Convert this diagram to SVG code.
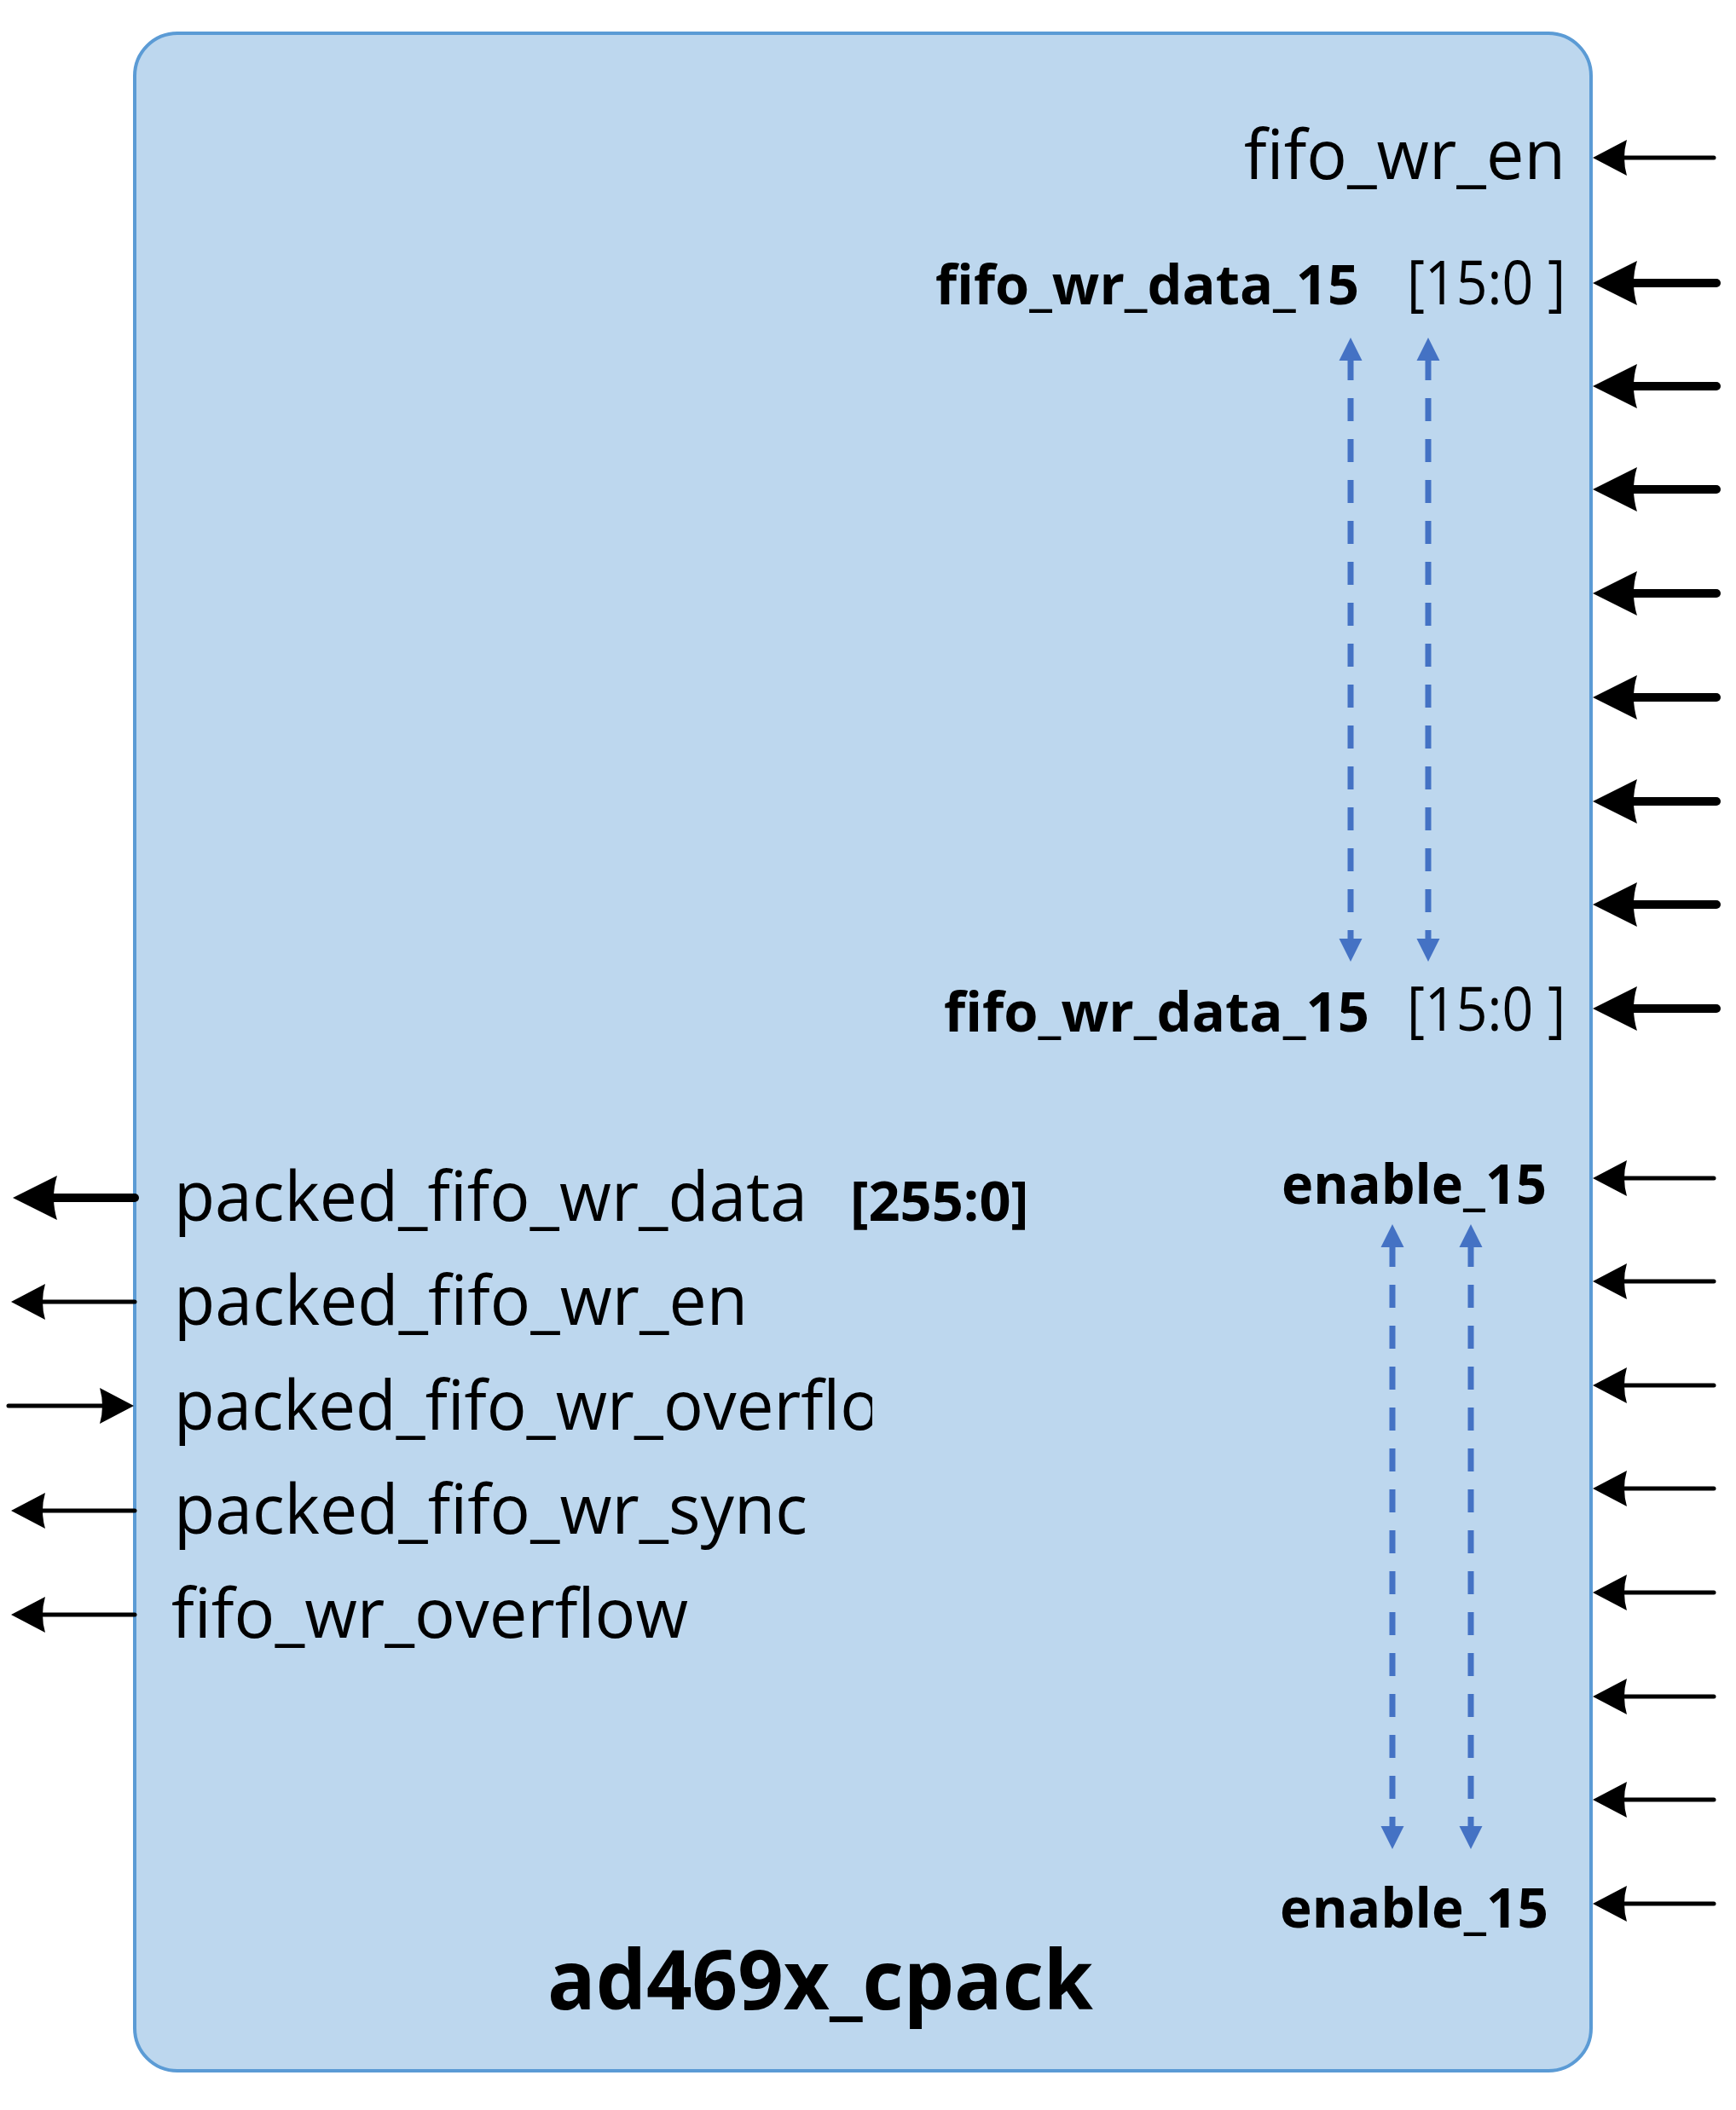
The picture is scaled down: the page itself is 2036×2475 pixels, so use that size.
<svg xmlns="http://www.w3.org/2000/svg" xmlns:xlink="http://www.w3.org/1999/xlink" width="2036" height="2475" viewBox="0 0 2036 2475">
  <style>
    .box { fill: #BDD7EE; stroke: #5B9BD5; stroke-width: 4; }
    .t { font-family: "Open Sans", "Noto Sans", "DejaVu Sans", sans-serif; fill: #000; }
    .r { font-size: 80px; font-weight: 400; }
    .rb { font-size: 72px; font-weight: 400; }
    .b { font-size: 65px; font-weight: 700; }
    .title { font-size: 96px; font-weight: 700; }
    .thick { stroke: #000; stroke-width: 10; stroke-linecap: round; fill: none; }
    .thin { stroke: #000; stroke-width: 5; stroke-linecap: round; fill: none; }
    .dash { stroke: #4472C4; stroke-width: 7; stroke-dasharray: 27 21; fill: none; }
    .hd { fill: #000; }
    .hb { fill: #4472C4; }
  </style>
  <defs>
    <path id="hT" d="M0,0 L52,-26 Q44,0 52,26 Z"/>
    <path id="hN" d="M0,0 L40,-21 Q34,0 40,21 Z"/>
    <path id="hB" d="M0,0 L-13.5,27 L13.5,27 Z"/>
    <clipPath id="clipL"><rect x="0" y="0" width="1023" height="2475"/></clipPath>
    <clipPath id="clipB"><rect x="0" y="0" width="1202" height="2475"/></clipPath>
  </defs>

  <g id="ad469x_cpack">
    <rect class="box" x="158" y="39" width="1708" height="2390" rx="50" ry="50"/>
    <text class="t title" x="642" y="2357" textLength="640" lengthAdjust="spacingAndGlyphs">ad469x_cpack</text>

    <text class="t r" x="1459" y="210" textLength="377" lengthAdjust="spacingAndGlyphs">fifo_wr_en</text>
    <text class="t b" x="1097" y="357" textLength="497" lengthAdjust="spacingAndGlyphs">fifo_wr_data_15</text>
    <text class="t rb" x="1650" y="357" textLength="186" lengthAdjust="spacingAndGlyphs">[15:0 ]</text>
    <text class="t b" x="1107" y="1210" textLength="499" lengthAdjust="spacingAndGlyphs">fifo_wr_data_15</text>
    <text class="t rb" x="1650" y="1209" textLength="186" lengthAdjust="spacingAndGlyphs">[15:0 ]</text>
    <text class="t b" x="1503" y="1412" textLength="311" lengthAdjust="spacingAndGlyphs">enable_15</text>
    <text class="t b" x="1501" y="2261" textLength="315" lengthAdjust="spacingAndGlyphs">enable_15</text>

    <text class="t r" x="204" y="1432" textLength="743" lengthAdjust="spacingAndGlyphs">packed_fifo_wr_data</text>
    <g clip-path="url(#clipB)">
      <text class="t b" x="997" y="1432" textLength="210" lengthAdjust="spacingAndGlyphs">[255:0]</text>
    </g>
    <text class="t r" x="204" y="1554" textLength="673" lengthAdjust="spacingAndGlyphs">packed_fifo_wr_en</text>
    <g clip-path="url(#clipL)">
      <text class="t r" x="204" y="1677" textLength="828" lengthAdjust="spacingAndGlyphs">packed_fifo_wr_overflo</text>
    </g>
    <text class="t r" x="204" y="1799" textLength="743" lengthAdjust="spacingAndGlyphs">packed_fifo_wr_sync</text>
    <text class="t r" x="201" y="1921" textLength="606" lengthAdjust="spacingAndGlyphs">fifo_wr_overflow</text>
  </g>

  <g id="connectors">
    <line class="thin" x1="2010" y1="185" x2="1900" y2="185"/>
    <use xlink:href="#hN" class="hd" transform="translate(1868,185)"/>

    <g>
      <line class="thick" x1="2013" y1="332" x2="1910" y2="332"/>
      <use xlink:href="#hT" class="hd" transform="translate(1868,332)"/>
      <line class="thick" x1="2013" y1="453" x2="1910" y2="453"/>
      <use xlink:href="#hT" class="hd" transform="translate(1868,453)"/>
      <line class="thick" x1="2013" y1="574" x2="1910" y2="574"/>
      <use xlink:href="#hT" class="hd" transform="translate(1868,574)"/>
      <line class="thick" x1="2013" y1="696" x2="1910" y2="696"/>
      <use xlink:href="#hT" class="hd" transform="translate(1868,696)"/>
      <line class="thick" x1="2013" y1="818" x2="1910" y2="818"/>
      <use xlink:href="#hT" class="hd" transform="translate(1868,818)"/>
      <line class="thick" x1="2013" y1="940" x2="1910" y2="940"/>
      <use xlink:href="#hT" class="hd" transform="translate(1868,940)"/>
      <line class="thick" x1="2013" y1="1061" x2="1910" y2="1061"/>
      <use xlink:href="#hT" class="hd" transform="translate(1868,1061)"/>
      <line class="thick" x1="2013" y1="1183" x2="1910" y2="1183"/>
      <use xlink:href="#hT" class="hd" transform="translate(1868,1183)"/>
    </g>

    <g>
      <line class="thin" x1="2010" y1="1382" x2="1900" y2="1382"/>
      <use xlink:href="#hN" class="hd" transform="translate(1868,1382)"/>
      <line class="thin" x1="2010" y1="1503" x2="1900" y2="1503"/>
      <use xlink:href="#hN" class="hd" transform="translate(1868,1503)"/>
      <line class="thin" x1="2010" y1="1625" x2="1900" y2="1625"/>
      <use xlink:href="#hN" class="hd" transform="translate(1868,1625)"/>
      <line class="thin" x1="2010" y1="1746" x2="1900" y2="1746"/>
      <use xlink:href="#hN" class="hd" transform="translate(1868,1746)"/>
      <line class="thin" x1="2010" y1="1868" x2="1900" y2="1868"/>
      <use xlink:href="#hN" class="hd" transform="translate(1868,1868)"/>
      <line class="thin" x1="2010" y1="1990" x2="1900" y2="1990"/>
      <use xlink:href="#hN" class="hd" transform="translate(1868,1990)"/>
      <line class="thin" x1="2010" y1="2111" x2="1900" y2="2111"/>
      <use xlink:href="#hN" class="hd" transform="translate(1868,2111)"/>
      <line class="thin" x1="2010" y1="2233" x2="1900" y2="2233"/>
      <use xlink:href="#hN" class="hd" transform="translate(1868,2233)"/>
    </g>

    <line class="thick" x1="158" y1="1405" x2="60" y2="1405"/>
    <use xlink:href="#hT" class="hd" transform="translate(15,1405)"/>
    <line class="thin" x1="158" y1="1527" x2="45" y2="1527"/>
    <use xlink:href="#hN" class="hd" transform="translate(13,1527)"/>
    <line class="thin" x1="10" y1="1649" x2="125" y2="1649"/>
    <use xlink:href="#hN" class="hd" transform="translate(157,1649) scale(-1,1)"/>
    <line class="thin" x1="158" y1="1772" x2="45" y2="1772"/>
    <use xlink:href="#hN" class="hd" transform="translate(13,1772)"/>
    <line class="thin" x1="158" y1="1894" x2="45" y2="1894"/>
    <use xlink:href="#hN" class="hd" transform="translate(13,1894)"/>

    <line class="dash" x1="1584" y1="419" x2="1584" y2="1104"/>
    <use xlink:href="#hB" class="hb" transform="translate(1584,396)"/>
    <use xlink:href="#hB" class="hb" transform="translate(1584,1128) scale(1,-1)"/>
    <line class="dash" x1="1675" y1="419" x2="1675" y2="1104"/>
    <use xlink:href="#hB" class="hb" transform="translate(1675,396)"/>
    <use xlink:href="#hB" class="hb" transform="translate(1675,1128) scale(1,-1)"/>

    <line class="dash" x1="1633" y1="1459" x2="1633" y2="2146"/>
    <use xlink:href="#hB" class="hb" transform="translate(1633,1436)"/>
    <use xlink:href="#hB" class="hb" transform="translate(1633,2169) scale(1,-1)"/>
    <line class="dash" x1="1725" y1="1459" x2="1725" y2="2146"/>
    <use xlink:href="#hB" class="hb" transform="translate(1725,1436)"/>
    <use xlink:href="#hB" class="hb" transform="translate(1725,2169) scale(1,-1)"/>
  </g>
</svg>
